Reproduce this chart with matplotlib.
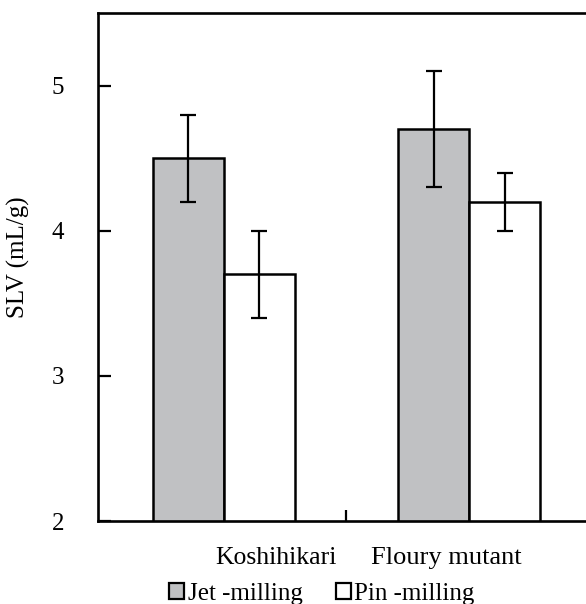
import matplotlib
matplotlib.use("Agg")
import matplotlib.pyplot as plt
from matplotlib.patches import Patch
import matplotlib.transforms as mtransforms

categories = ["Koshihikari", "Floury mutant"]
series_names = ["Jet -milling", "Pin -milling"]
jet_values = [4.5, 4.7]
jet_errors = [0.3, 0.4]
pin_values = [3.7, 4.2]
pin_errors = [0.3, 0.2]
yticks = [2, 3, 4, 5]

plt.rcParams['font.family'] = ['Liberation Serif', 'DejaVu Serif']
FS = 18

W, H = 586, 604
fig = plt.figure(figsize=(W / 100, H / 100), dpi=100)
ax = fig.add_axes([97.7 / W, 83 / H, 494.3 / W, 508 / H])

x = list(range(len(categories)))
bw = 0.289
gray = '#c0c1c3'
xj = [i - bw / 2 for i in x]
xp = [i + bw / 2 for i in x]
ax.bar(xj, jet_values, width=bw, color=gray, edgecolor='black', linewidth=1.8, zorder=2)
ax.bar(xp, pin_values, width=bw, color='white', edgecolor='black', linewidth=1.8, zorder=2)
ax.errorbar(xj, jet_values, yerr=jet_errors, fmt='none', ecolor='black',
            elinewidth=1.6, capsize=5.5, capthick=1.6, zorder=3)
ax.errorbar(xp, pin_values, yerr=pin_errors, fmt='none', ecolor='black',
            elinewidth=1.6, capsize=5.5, capthick=1.6, zorder=3)

ax.set_xlim(-0.513, 1.5)
ax.set_ylim(2, 5.5)
ax.set_yticks(yticks)
ax.set_yticklabels([str(t) for t in yticks], fontsize=FS)
ax.set_xticks([0.5])
ax.set_xticklabels([''])
ax.tick_params(axis='y', direction='in', length=9, width=1.6, pad=24)
ax.tick_params(axis='x', direction='in', length=8, width=1.6)
for s in ax.spines.values():
    s.set_linewidth(1.9)
ax.spines['right'].set_visible(False)

ax.set_ylabel('SLV (mL/g)', fontsize=FS)
ax.yaxis.label.set_va('center')
ax.yaxis.set_label_coords(-0.160, 0.52)

# category labels placed near the category separator
trans = mtransforms.blended_transform_factory(ax.transData, ax.transAxes)
ax.text(x[0] + 0.213, -0.072, categories[0], transform=trans, ha='center', va='center', fontsize=FS + 0.5)
ax.text(x[1] - 0.093, -0.072, categories[1], transform=trans, ha='center', va='center', fontsize=FS + 1)

handles = [Patch(facecolor=gray, edgecolor='black', linewidth=1.6),
           Patch(facecolor='white', edgecolor='black', linewidth=1.6)]
fig.legend(handles, series_names, loc='center', bbox_to_anchor=(322 / W, 1 - 594 / H),
           ncol=2, frameon=False, fontsize=FS, handlelength=0.6, handleheight=0.6,
           handletextpad=0.15, columnspacing=1.3, borderpad=0)

fig.savefig('out.png', dpi=100)
